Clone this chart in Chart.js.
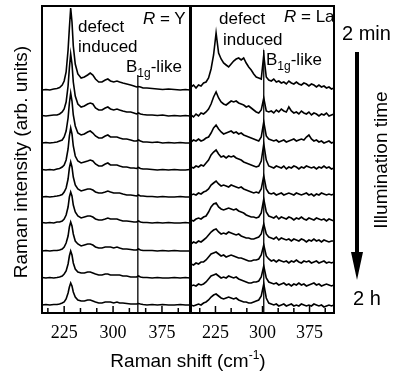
<!DOCTYPE html>
<html>
<head>
<meta charset="utf-8">
<script src="https://cdn.jsdelivr.net/npm/chart.js@4.4.1/dist/chart.umd.min.js"></script>
<style>
  body { margin: 0; background: #fff; }
  #wrap { position: relative; width: 396px; height: 372px; overflow: hidden; font-family: "Liberation Sans", Arial, sans-serif; color: #000; }
  canvas { position: absolute; left: 0; top: 0; }
  .lbl { position: absolute; white-space: nowrap; font-size: 17px; line-height: 1; }
  .rot { position: absolute; white-space: nowrap; font-size: 19px; line-height: 1; transform: translate(-50%, -50%) rotate(-90deg); }
  .lbl sub { font-size: 12px; vertical-align: -5px; line-height: 0; }
  .lbl sup { font-size: 12px; vertical-align: 8px; line-height: 0; }
</style>
</head>
<body>
<div id="wrap">
  <canvas id="cY" width="396" height="372"></canvas>
  <canvas id="cLa" width="396" height="372"></canvas>

  <div class="lbl" style="left:78px;top:18px">defect</div>
  <div class="lbl" style="left:78px;top:38px">induced</div>
  <div class="lbl" style="left:143px;top:10px"><i>R</i> = Y</div>
  <div class="lbl" style="left:126px;top:58px">B<sub>1g</sub>-like</div>

  <div class="lbl" style="left:219px;top:10px">defect</div>
  <div class="lbl" style="left:223px;top:31px">induced</div>
  <div class="lbl" style="left:284px;top:8px"><i>R</i> = La</div>
  <div class="lbl" style="left:266px;top:51px">B<sub>1g</sub>-like</div>

  <div class="lbl" style="left:342px;top:23px;font-size:20px">2 min</div>
  <div class="lbl" style="left:353px;top:288px;font-size:20px">2 h</div>
  <div class="rot" style="left:380px;top:160px">Illumination time</div>
  <svg style="position:absolute;left:0;top:0" width="396" height="372">
    <line x1="357" y1="52" x2="357" y2="258" stroke="#000" stroke-width="4"/>
    <polygon points="351,252 363,252 357,280" fill="#000"/>
  </svg>

  <div class="rot" style="left:20px;top:162px">Raman intensity (arb. units)</div>
  <div class="lbl" style="left:188px;top:351px;font-size:19px;transform:translateX(-50%)">Raman shift (cm<sup>-1</sup>)</div>
</div>

<script>
// tick marks every 25 cm-1, numbers only on some
const tickVals = [200, 225, 250, 275, 300, 325, 350, 375, 400];
const labelVals = [225, 300, 375];

// R = Y panel
const shiftY = [191, 197, 203, 209, 214, 218, 222, 225, 228, 231, 233, 235, 237, 239, 242, 246, 251, 256, 261, 265,
  269, 273, 278, 283, 288, 292, 296, 301, 306, 310, 315, 321, 327, 332, 336, 339, 342, 346, 352, 360,
  368, 376, 385, 394, 403, 411, 418];
const offsetsY = [223, 197, 170, 143, 116, 90, 62, 35, 8];
const y1 = [0,0.5,0,1,1.5,2.5,5,9,18,40, 62,82,68,44,26,16,12,13,15,17, 15,11,8,8,10,11,9,8,9,8, 7,6,5,4,3,3.5,3,2,2,1.5, 1,0.5,1,0.5,0,0.5,0];
const y2 = [0.5,0,0.5,1,1,2,4,7,14,30, 48,62,52,34,20,12,9,10,12,13, 12,8,6,6,8,9,7,6,7,6, 5,4,4,3,2,3,2,1.5,1,1, 0.5,1,0,0.5,0,0.5,0];
const y3 = [0,0.5,0,0.5,1,2,3,6,12,25, 40,50,42,28,17,10,8,9,11,12, 10,7,5,5,7,8,6,6,6,5, 4,4,3,2,2,3,2,1,1,0.5, 1,0,0.5,0,0.5,0,0];
const y4 = [0.5,0,0.5,0,1,1.5,3,5,10,21, 34,42,36,24,14,9,7,8,9,10, 9,6,4,4,6,7,5,5,5,4, 3,3,2,2,1.5,2.5,1.5,1,1,0.5, 0,0.5,0,0.5,0,0,0.5];
const y5 = [0,0.5,0,0.5,1,1.5,2.5,5,9,18, 29,35,30,20,12,8,6,7,8,8, 7,5,4,4,5,6,5,4,4,4, 3,2,2,1.5,1,2,1,1,0.5,0.5, 0,0.5,0,0,0.5,0,0];
const y6 = [0.5,0,0.5,0,1,1,2,4,8,16, 26,31,27,18,11,7,5,6,7,7, 6,4,3,3,4,5,4,4,4,3, 2,2,1.5,1,1,2,1,0.5,0.5,0, 0.5,0,0.5,0,0,0.5,0];
const y7 = [0,0.5,0,0.5,0.5,1,2,4,8,15, 24,29,25,17,10,7,5,6,7,7, 6,4,3,3,4,4,4,3,4,3, 2,2,1.5,1,1,2,1,0.5,0.5,0.5, 0,0.5,0,0.5,0,0,0];
const y8 = [0.5,0,0.5,0,0.5,1,2,4,7,14, 22,27,23,15,9,6,5,5,6,6, 5,4,3,3,4,4,3,3,3,3, 2,2,1,1,1,2,1,0.5,0.5,0, 0.5,0,0,0.5,0,0.5,0];
const y9 = [0,0.5,0,0.5,0.5,1,2,3,6,12, 18,22,19,13,8,5,4,4,5,5, 4,3,2,2,3,3,3,2,3,2, 2,1.5,1,1,1,1.5,1,0.5,0,0.5, 0,0.5,0,0,0.5,0,0];
const b1gY = [338];

// R = La panel
const shiftLa = [186, 190, 194, 198, 202, 206, 210, 214, 218, 222, 226, 230, 234, 238, 242, 246, 250, 254, 258, 262,
  266, 270, 274, 278, 282, 286, 290, 294, 298, 302, 306, 310, 314, 318, 322, 326, 330, 334, 338, 342,
  346, 350, 354, 358, 362, 366, 370, 374, 378, 382, 386, 390, 394, 398, 402, 406, 410, 414];
const offsetsLa = [224, 197, 171, 145, 118, 92, 69, 48, 27, 7];
const la1 = [2,4,1,4,3,6,7,11,20,34, 56,36,30,26,24,22,25,28,30,31, 29,31,26,22,19,15,12,11,10,34, 12,9,8,10,7,8,6,7,5,8, 6,5,7,5,4,6,5,3,5,4, 2,4,2,3,1,2,0,1];
const la2 = [1,-1,2,0,3,2,4,7,12,19, 24,18,14,12,11,13,15,14,15,13, 12,11,9,10,8,6,4,3,6,18, 5,4,5,3,6,4,7,5,4,9, 5,3,4,2,5,3,2,4,1,3, 2,0,2,1,3,0,1,2];
const la3 = [0,2,1,3,1,2,4,5,9,14, 17,13,10,8,9,10,11,9,10,8, 9,7,6,5,4,3,2,1,5,20, 6,3,2,1,2,0,1,2,0,1, 2,3,1,2,3,2,5,7,3,1, 2,0,1,-1,0,1,-1,0];
const la4 = [1,0,2,1,3,2,5,8,13,16, 18,14,11,12,10,12,11,12,10,9, 8,6,5,4,3,2,1,2,7,24, 8,2,1,0,2,1,0,2,-1,1, 0,2,1,-1,1,0,2,1,0,1, -1,1,0,2,0,1,-1,0];
const la5 = [0,1,0,2,1,3,4,6,10,12, 14,11,9,10,9,8,10,9,8,7, 8,6,5,4,3,2,3,2,6,19, 6,2,1,2,0,1,2,0,1,2, 1,0,2,1,0,1,2,0,1,-1, 1,0,2,1,0,1,0,1];
const la6 = [1,0,2,3,2,4,5,9,14,17, 18,14,12,11,12,13,12,11,12,10, 9,8,6,5,4,4,3,4,8,22, 9,5,4,3,5,2,4,3,2,4, 3,1,3,2,4,2,1,3,2,1, 3,2,1,2,0,2,1,0];
const la7 = [0,2,1,3,2,4,6,9,12,14, 15,12,10,11,10,12,11,10,9,10, 8,7,6,6,5,5,6,7,10,20, 10,7,6,5,7,4,6,5,4,5, 3,5,4,3,5,4,2,4,3,5, 3,4,2,4,3,2,3,3];
const la8 = [1,0,2,1,3,3,5,8,11,12, 13,11,9,10,8,9,10,9,8,7, 7,6,5,4,4,5,5,6,10,20, 9,6,4,5,3,5,4,3,4,2, 4,3,5,3,2,4,3,4,2,3, 4,2,3,4,2,3,2,3];
const la9 = [0,1,0,2,1,2,4,7,10,11, 12,10,8,9,8,10,9,8,9,7, 6,5,4,3,3,4,4,5,9,20, 8,4,3,2,3,1,2,3,1,2, 0,2,1,3,1,2,0,1,2,3, 1,2,0,1,2,1,0,1];
const la10 = [1,0,1,2,1,3,4,6,9,11, 12,10,8,7,8,9,8,7,8,6, 5,4,4,3,3,4,5,6,10,22, 8,3,2,1,2,0,1,2,0,1, 2,0,1,0,2,1,0,1,0,2, 1,0,1,-1,0,1,0,1];
const b1gLa = [302];

// inward ticks + heavy frame
const framePlugin = {
  id: 'frame',
  afterDatasetsDraw(chart) {
    const ctx = chart.ctx;
    const a = chart.chartArea;
    const x = chart.scales.x;
    ctx.save();
    ctx.strokeStyle = '#000';
    ctx.lineWidth = 1.5;
    x.ticks.forEach(t => {
      const px = x.getPixelForValue(t.value);
      const len = labelVals.includes(t.value) ? 7 : 5;
      ctx.beginPath();
      ctx.moveTo(px, a.bottom);
      ctx.lineTo(px, a.bottom - len);
      ctx.stroke();
    });
    ctx.lineWidth = 2;
    ctx.strokeRect(a.left, a.top, a.right - a.left, a.bottom - a.top);
    ctx.restore();
  }
};

function makePanel(id, xs, specs, offs, xMin, xMax, markerX, markerTop, pad) {
  const datasets = specs.map((s, k) => ({
    data: xs.map((x, i) => ({ x: x, y: s[i] + offs[k] })),
    borderColor: '#000',
    borderWidth: 1.6,
    pointRadius: 0,
    tension: 0,
    fill: false
  }));
  datasets.push({
    data: [{ x: markerX[0], y: 0 }, { x: markerX[0], y: markerTop }],
    borderColor: '#000',
    borderWidth: 1.3,
    pointRadius: 0,
    fill: false
  });

  return new Chart(document.getElementById(id), {
    type: 'line',
    data: { datasets: datasets },
    options: {
      responsive: false,
      animation: false,
      events: [],
      layout: { padding: pad },
      plugins: { legend: { display: false }, tooltip: { enabled: false } },
      scales: {
        x: {
          type: 'linear',
          min: xMin,
          max: xMax,
          afterBuildTicks: axis => { axis.ticks = tickVals.map(v => ({ value: v })); },
          afterFit: scale => { scale.height = 40; },
          grid: { display: false, drawTicks: false },
          border: { display: false },
          ticks: {
            padding: 9,
            autoSkip: false,
            maxRotation: 0,
            color: '#000',
            font: { family: 'Liberation Serif', size: 18 },
            callback: v => labelVals.includes(v) ? String(v) : ''
          }
        },
        y: { display: false, min: 0, max: 307 }
      }
    },
    plugins: [framePlugin]
  });
}

makePanel('cY', shiftY, [y1, y2, y3, y4, y5, y6, y7, y8, y9], offsetsY, 191, 418, b1gY, 238,
  { left: 42, right: 206, top: 6, bottom: 19 });
makePanel('cLa', shiftLa, [la1, la2, la3, la4, la5, la6, la7, la8, la9, la10], offsetsLa, 186, 414, b1gLa, 263,
  { left: 191, right: 62, top: 6, bottom: 19 });
</script>
</body>
</html>
